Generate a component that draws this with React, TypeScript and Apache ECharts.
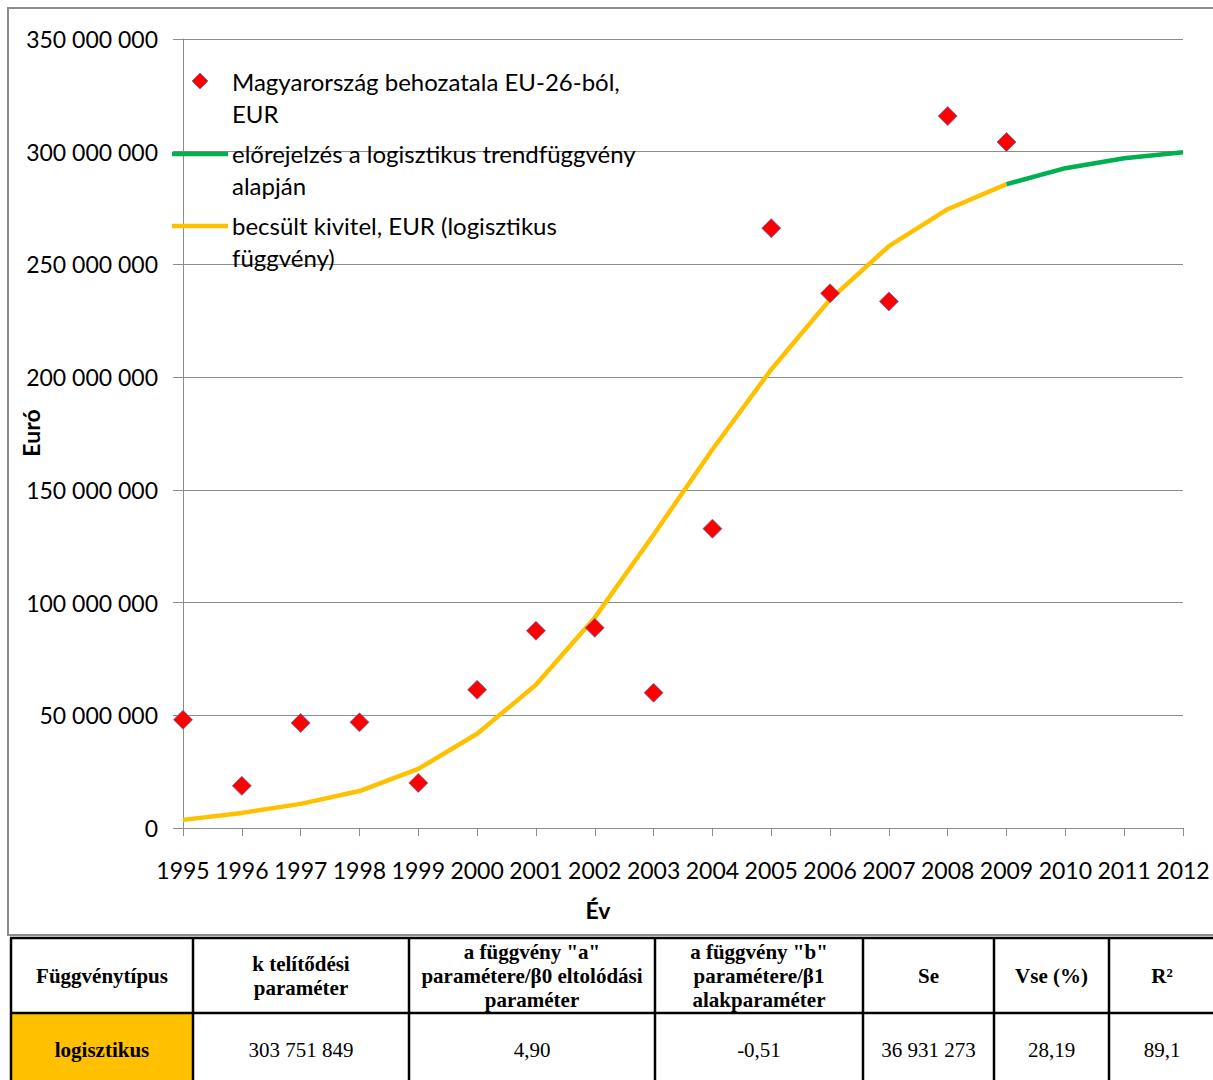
import React, { useEffect, useRef } from "react";
import * as echarts from "echarts";

const years = ["1995","1996","1997","1998","1999","2000","2001","2002","2003","2004","2005","2006","2007","2008","2009","2010","2011","2012"];
const imports = [48.0, 18.7, 46.6, 46.9, 20.0, 61.3, 87.5, 88.8, 60.0, 132.8, 266.1, 237.2, 233.6, 315.8, 304.3, null, null, null];
const estimated = [3.6, 6.7, 10.7, 16.4, 26.2, 41.8, 63.5, 93.3, 130.1, 167.9, 203.4, 234.5, 258.1, 274.5, 285.6, null, null, null];
const forecast = [null, null, null, null, null, null, null, null, null, null, null, null, null, null, 285.6, 292.7, 297.1, 299.8];

const seriesNames = [
  "Magyarország behozatala EU-26-ból,\nEUR",
  "előrejelzés a logisztikus trendfüggvény\nalapján",
  "becsült kivitel, EUR (logisztikus\nfüggvény)",
];

const tableHeader = [
  "Függvénytípus",
  "k telítődési\nparaméter",
  "a függvény \"a\"\nparamétere/β0 eltolódási\nparaméter",
  "a függvény \"b\"\nparamétere/β1\nalakparaméter",
  "Se",
  "Vse (%)",
  "R²",
];
const tableRow = ["logisztikus", "303 751 849", "4,90", "-0,51", "36 931 273", "28,19", "89,1"];

const M = 1000000;
const toEur = (arr: (number | null)[]) => arr.map((v) => (v == null ? null : Math.round(v * M)));
const fmt = (v: number) => String(v).replace(/\B(?=(\d{3})+(?!\d))/g, " ");

const FONT = "Lato, 'Open Sans', sans-serif";
const SERIF = "'Liberation Serif', 'Times New Roman', serif";
const GRID = "#8c8c8c";

export default function App() {
  const ref = useRef<HTMLDivElement>(null);
  useEffect(() => {
    if (!ref.current) return;
    const chart = echarts.init(ref.current, undefined, { renderer: "svg" });

    const colX = [11, 193, 409, 655, 863, 994, 1109, 1215];
    const rowY = [938, 1013, 1092];
    const tableGraphics: any[] = [];
    tableGraphics.push({
      type: "rect",
      shape: { x: colX[0], y: rowY[1], width: colX[1] - colX[0], height: rowY[2] - rowY[1] },
      style: { fill: "#FFC000" },
      z: 10,
    });
    for (let r = 0; r < 2; r++) {
      for (let c = 0; c < 7; c++) {
        const cx = (colX[c] + colX[c + 1]) / 2;
        const cy = (rowY[r] + rowY[r + 1]) / 2;
        const text = r === 0 ? tableHeader[c] : tableRow[c];
        const bold = r === 0 || c === 0;
        tableGraphics.push({
          type: "text",
          x: cx,
          y: r === 0 ? cy : 1050,
          style: {
            text,
            fill: "#000",
            font: `${bold ? "bold " : ""}21px ${SERIF}`,
            lineHeight: 24,
            align: "center",
            verticalAlign: "middle",
          },
          z: 12,
        });
      }
    }
    for (const y of rowY.slice(0, 2)) {
      tableGraphics.push({
        type: "line",
        shape: { x1: colX[0] - 1, y1: y, x2: 1215, y2: y },
        style: { stroke: "#000", lineWidth: 2.5 },
        z: 11,
      });
    }
    for (const x of colX.slice(0, 7)) {
      tableGraphics.push({
        type: "line",
        shape: { x1: x, y1: rowY[0], x2: x, y2: 1085 },
        style: { stroke: "#000", lineWidth: 2.5 },
        z: 11,
      });
    }

    const option: any = {
      animation: false,
      backgroundColor: "#fff",
      grid: { left: 183, top: 39, right: 30, bottom: 252, containLabel: false },
      xAxis: {
        type: "category",
        data: years,
        boundaryGap: false,
        axisLine: { show: true, lineStyle: { color: GRID, width: 1 } },
        axisTick: { show: true, length: 8, interval: 0, lineStyle: { color: GRID } },
        axisLabel: { interval: 0, margin: 30, color: "#000", fontSize: 23, fontFamily: FONT },
        splitLine: { show: false },
      },
      yAxis: {
        type: "value",
        min: 0,
        max: 350 * M,
        interval: 50 * M,
        axisLine: { show: true, lineStyle: { color: GRID, width: 1 } },
        axisTick: { show: true, length: 10, lineStyle: { color: GRID } },
        axisLabel: { margin: 25, color: "#000", fontSize: 23, fontFamily: FONT, formatter: (v: number) => fmt(v) },
        splitLine: { show: true, lineStyle: { color: GRID, width: 1 } },
      },
      series: [
        {
          name: seriesNames[2],
          type: "line",
          data: toEur(estimated),
          symbol: "none",
          lineStyle: { color: "#FFC000", width: 4.5 },
          z: 3,
        },
        {
          name: seriesNames[1],
          type: "line",
          data: toEur(forecast),
          symbol: "none",
          lineStyle: { color: "#00B050", width: 4.5 },
          z: 3,
        },
        {
          name: seriesNames[0],
          type: "scatter",
          data: toEur(imports),
          symbol: "diamond",
          symbolSize: [19, 19],
          itemStyle: { color: "#FF0000", opacity: 1, borderColor: "#6670a8", borderWidth: 0.8 },
          z: 5,
        },
      ],
      graphic: [
        {
          type: "rect",
          shape: { x: 8, y: 8, width: 1220, height: 927 },
          style: { fill: "none", stroke: "#8c8c8c", lineWidth: 2 },
          z: 1,
        },
        {
          type: "polygon",
          shape: { points: [[200, 73], [208, 81], [200, 89], [192, 81]] },
          style: { fill: "#FF0000", stroke: "#6670a8", lineWidth: 0.8 },
          z: 20,
        },
        {
          type: "text",
          x: 232,
          y: 65,
          style: { text: seriesNames[0], fill: "#000", font: `24px ${FONT}`, lineHeight: 32, verticalAlign: "top", align: "left" },
          z: 20,
        },
        {
          type: "line",
          shape: { x1: 172, y1: 154, x2: 228, y2: 154 },
          style: { stroke: "#00B050", lineWidth: 4.5 },
          z: 20,
        },
        {
          type: "text",
          x: 232,
          y: 137,
          style: { text: seriesNames[1], fill: "#000", font: `24px ${FONT}`, lineHeight: 32, verticalAlign: "top", align: "left" },
          z: 20,
        },
        {
          type: "line",
          shape: { x1: 172, y1: 226, x2: 228, y2: 226 },
          style: { stroke: "#FFC000", lineWidth: 4.5 },
          z: 20,
        },
        {
          type: "text",
          x: 232,
          y: 209,
          style: { text: seriesNames[2], fill: "#000", font: `24px ${FONT}`, lineHeight: 32, verticalAlign: "top", align: "left" },
          z: 20,
        },
        {
          type: "text",
          x: 598,
          y: 910,
          style: { text: "Év", fill: "#000", font: `bold 23px ${FONT}`, align: "center", verticalAlign: "middle" },
          z: 20,
        },
        {
          type: "text",
          x: 31,
          y: 433,
          rotation: Math.PI / 2,
          style: { text: "Euró", fill: "#000", font: `bold 23px ${FONT}`, align: "center", verticalAlign: "middle" },
          z: 20,
        },
        ...tableGraphics,
      ],
    };
    chart.setOption(option);
    return () => chart.dispose();
  }, []);
  return (
    <div
      ref={ref}
      style={{ position: "absolute", left: 0, top: 0, width: 1213, height: 1080, background: "#fff" }}
    />
  );
}
